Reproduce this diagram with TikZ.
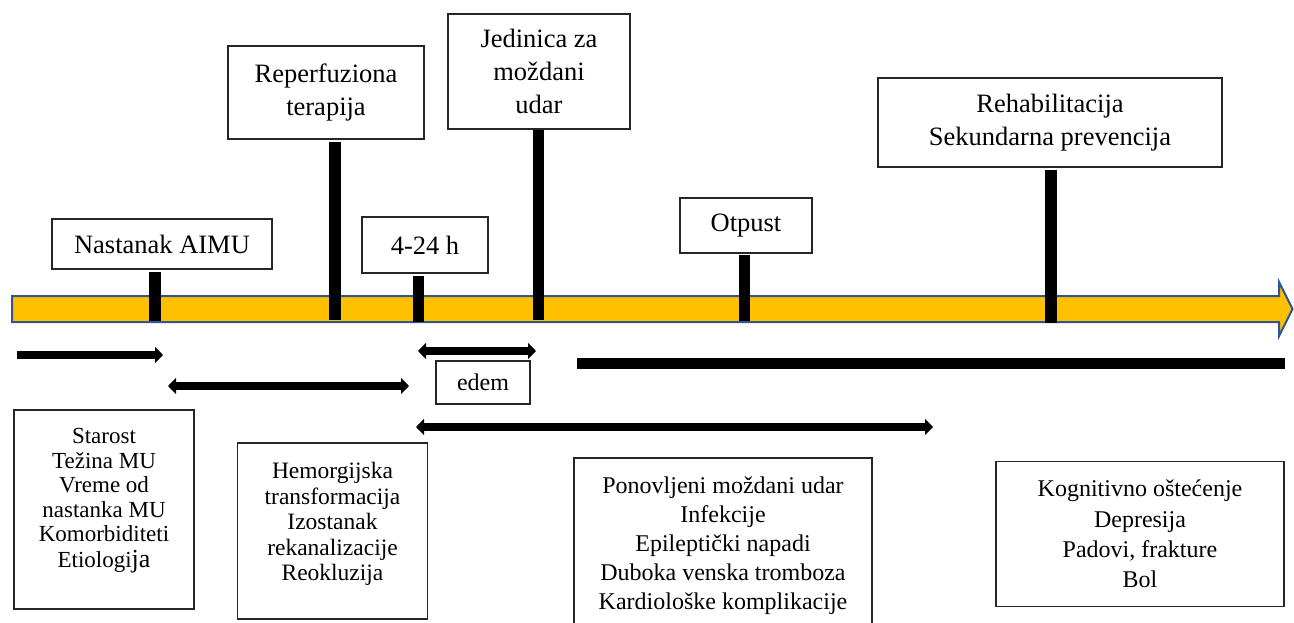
\documentclass[tikz,border=0pt]{standalone}
\usepackage{fontspec}
\setmainfont{Liberation Serif}
\usetikzlibrary{arrows.meta}
\definecolor{gold}{RGB}{255,192,0}
\definecolor{tlblue}{RGB}{47,85,151}
\begin{document}
\begin{tikzpicture}[x=1pt,y=-1pt,
  box/.style={draw=black!85, line width=1.2pt, inner sep=0pt, align=center, fill=white},
  topbox/.style={box, font=\fontsize{26.5}{33}\selectfont},
  bar/.style={line width=11.5pt, black},
  thk/.style={line width=8.5pt, black},
  tipend/.style={-{Triangle[width=16pt,length=8pt]}},
  tipboth/.style={{Triangle[width=16pt,length=8pt]}-{Triangle[width=16pt,length=8pt]}}
]
\useasboundingbox (0,0) rectangle (1294,622);
\clip (0,0) rectangle (1294,622);

% timeline arrow
\draw[fill=gold, draw=tlblue, line width=2pt, line join=miter]
  (12,296) -- (1279,296) -- (1279,282) -- (1292.5,309) -- (1279,336) -- (1279,322) -- (12,322) -- cycle;

% top labels
\node[topbox, minimum width=220, minimum height=50] (nA) at (162,244) {Nastanak AIMU};
\node[topbox, minimum width=196, minimum height=93] (nR) at (326,92.5) {Reperfuziona\\terapija};
\node[topbox, minimum width=182, minimum height=115] (nJ) at (539,71.5) {Jedinica za\\moždani\\udar};
\node[topbox, minimum width=126, minimum height=56] (n4) at (425,245) {4-24 h};
\node[topbox, minimum width=132, minimum height=55] (nO) at (746,225.5) {Otpust};
\node[topbox, minimum width=344, minimum height=89] (nRe) at (1050,122.5) {Rehabilitacija\\Sekundarna prevencija};

% timeline points
\coordinate (t1) at (155,321);
\coordinate (t2) at (335,320);
\coordinate (t3) at (418.5,321.5);
\coordinate (t4) at (538.5,320);
\coordinate (t5) at (744.5,321);
\coordinate (t6) at (1051,323);

\draw[bar] ([yshift=-2pt]t1 |- nA.south) -- (t1);
\draw[bar] ([yshift=-2pt]t2 |- nR.south) -- (t2);
\draw[bar] ([yshift=-2pt]t3 |- n4.south) -- (t3);
\draw[bar] (t4 |- nJ.south) -- (t4);
\draw[bar] ([yshift=-1.5pt]t5 |- nO.south) -- (t5);
\draw[bar] ([yshift=-2pt]t6 |- nRe.south) -- (t6);

% period arrows
\coordinate (a1s) at (17,355);  \coordinate (a1e) at (163,355);
\coordinate (a2s) at (168,386); \coordinate (a2e) at (409,386);
\coordinate (a3s) at (418,351); \coordinate (a3e) at (536,351);
\coordinate (a4s) at (416,427); \coordinate (a4e) at (933,427);
\coordinate (lbs) at (577,363.5); \coordinate (lbe) at (1285,363.5);

\draw[thk, tipend] (a1s) -- (a1e);
\draw[thk, tipboth] (a2s) -- (a2e);
\draw[thk, tipboth] (a3s) -- (a3e);
\draw[thk, tipboth] (a4s) -- (a4e);
\draw[line width=11.5pt, black] (lbs) -- (lbe);

\node[box, font=\fontsize{24}{24}\selectfont, minimum width=94, minimum height=43] (nE) at (483,382.5) {edem};

% bottom boxes
\node[box, font=\fontsize{23}{24.4}\selectfont, minimum width=180, minimum height=199] (b1) at (104,509.5)
  {Starost\\Težina MU\\Vreme od\\nastanka MU\\Komorbiditeti\\[2pt]Etiologi{\fontsize{26}{26}\selectfont ja}\\[-2pt]\mbox{}};
\node[box, font=\fontsize{23.5}{25.5}\selectfont, minimum width=190, minimum height=176] (b2) at (332.5,531)
  {Hemorgijska\\transformacija\\Izostanak\\rekanalizacije\\Reokluzija\\[-7pt]\mbox{}};
\node[box, font=\fontsize{24}{29}\selectfont, minimum width=298, minimum height=175] (b3) at (723,545.4)
  {Ponovljeni moždani udar\\Infekcije\\Epileptički napadi\\Duboka venska tromboza\\Kardiološke komplikacije};
\node[box, font=\fontsize{24}{30.3}\selectfont, minimum width=288, minimum height=145] (b4) at (1140,534.2)
  {Kognitivno oštećenje\\Depresija\\Padovi, frakture\\Bol};
\end{tikzpicture}
\end{document}
